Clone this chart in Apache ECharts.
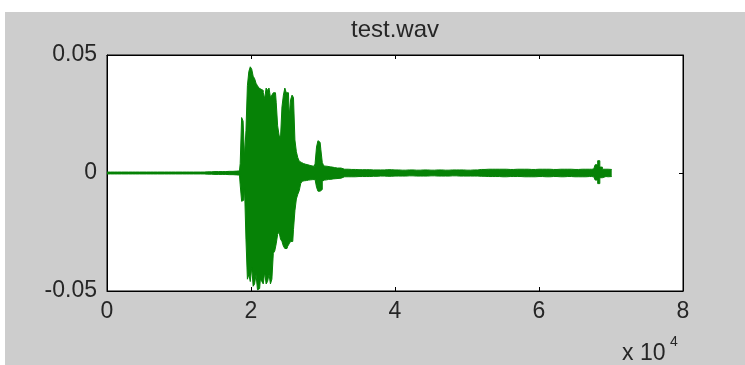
<!DOCTYPE html>
<html>
<head>
<meta charset="utf-8">
<script src="https://cdn.jsdelivr.net/npm/echarts@6/dist/echarts.min.js"></script>
<style>
  html, body { margin: 0; padding: 0; background: #ffffff; }
  #bg { position: absolute; left: 5px; top: 12px; width: 740px; height: 353px; background: #cdcdcd; }
  #chart { position: absolute; left: 0; top: 0; width: 745px; height: 365px; }
</style>
</head>
<body>
<div id="bg"></div>
<div id="chart"></div>
<script>
// Chart data (sample index, upper / lower envelope of the waveform)
const title = 'test.wav';
const xTickLabels = ['0', '2', '4', '6', '8'];
const yTickLabels = ['-0.05', '0', '0.05'];
const xExponent = '4';

const samples = [
  0, 1000, 2000, 3000, 4000, 5000, 6000, 7000, 8000, 9000, 10000, 11000, 12000, 13000, 14000,
  15000, 16000, 17000, 18000,
  18400, 18600, 18800, 19000, 19200, 19400, 19600, 19800, 20000, 20200, 20400, 20600, 20800,
  21000, 21200, 21400, 21600, 21800, 22000, 22200, 22400, 22600, 22800, 23000, 23200, 23400,
  23600, 23800, 24000, 24200, 24400, 24600, 24800, 25000, 25200, 25400, 25600, 25800, 26000,
  26200, 26400, 26600, 26800, 27000, 27200, 27400, 27600, 27800, 28000, 28200, 28400, 28600,
  28800, 29000, 29200, 29400, 29600, 29800, 30000, 30200, 30400, 30600, 30800, 31000, 31200,
  31400, 31600, 32000, 33000, 34000, 35000, 36000, 37000, 38000, 39000, 40000, 41000, 42000,
  43000, 44000, 45000, 46000, 47000, 48000, 49000, 50000, 51000, 52000, 53000, 54000, 55000,
  56000, 57000, 58000, 59000, 60000, 61000, 62000, 63000, 64000, 65000, 66000, 67000, 67600,
  68000, 68300, 68600, 69000, 69600, 70100
];
const upper = [
  0.0004, 0.0004, 0.0004, 0.0004, 0.0004, 0.0004, 0.0004, 0.0004, 0.0004, 0.0004, 0.0004, 0.0004, 0.0004, 0.0004, 0.0005,
  0.0006, 0.0006, 0.0007, 0.0008,
  0.0009, 0.004, 0.0235, 0.022, 0.007, 0.018, 0.037, 0.043, 0.045, 0.044, 0.041, 0.040, 0.038,
  0.037, 0.036, 0.0355, 0.035, 0.034, 0.0315, 0.036, 0.035, 0.036, 0.032, 0.033, 0.034, 0.034,
  0.030, 0.020, 0.016, 0.015, 0.028, 0.033, 0.036, 0.034, 0.034, 0.024, 0.031, 0.033, 0.032,
  0.014, 0.009, 0.0065, 0.005, 0.0045, 0.004, 0.0038, 0.0037, 0.0035, 0.0033, 0.0032, 0.003, 0.003,
  0.0029, 0.004, 0.011, 0.0137, 0.013, 0.010, 0.0045, 0.003, 0.0029, 0.0028, 0.0027, 0.0026, 0.0025,
  0.0024, 0.0023, 0.0021, 0.0016, 0.0015, 0.0014, 0.0014, 0.0013, 0.0013, 0.0014, 0.0013, 0.0012, 0.0013,
  0.0012, 0.0013, 0.0012, 0.0013, 0.0012, 0.0013, 0.0013, 0.0012, 0.0013, 0.0015, 0.0016, 0.0016, 0.0016,
  0.0015, 0.0016, 0.0016, 0.0015, 0.0016, 0.0016, 0.0015, 0.0016, 0.0016, 0.0015, 0.0016, 0.0016, 0.0017,
  0.0035, 0.0052, 0.0025, 0.0016, 0.0016, 0.0015
];
const lower = [
  -0.0004, -0.0004, -0.0004, -0.0004, -0.0004, -0.0004, -0.0004, -0.0004, -0.0004, -0.0004, -0.0004, -0.0004, -0.0004, -0.0004, -0.0005,
  -0.0006, -0.0006, -0.0007, -0.0008,
  -0.0009, -0.005, -0.012, -0.0115, -0.006, -0.028, -0.045, -0.043, -0.046, -0.040, -0.048, -0.047, -0.043,
  -0.0495, -0.049, -0.045, -0.046, -0.047, -0.042, -0.047, -0.046, -0.043, -0.047, -0.045, -0.034, -0.033,
  -0.030, -0.026, -0.025, -0.028, -0.029, -0.031, -0.032, -0.032, -0.031, -0.030, -0.029, -0.029, -0.024,
  -0.016, -0.011, -0.009, -0.0075, -0.0045, -0.0035, -0.0033, -0.0032, -0.0031, -0.003, -0.0029, -0.0029, -0.0028,
  -0.0028, -0.0035, -0.006, -0.0077, -0.0077, -0.007, -0.0035, -0.003, -0.0029, -0.0028, -0.0027, -0.0027, -0.0026,
  -0.0025, -0.0024, -0.0022, -0.0016, -0.0016, -0.0015, -0.0015, -0.0014, -0.0013, -0.0014, -0.0013, -0.0013, -0.0012,
  -0.0013, -0.0013, -0.0012, -0.0013, -0.0013, -0.0012, -0.0013, -0.0013, -0.0013, -0.0014, -0.0015, -0.0015, -0.0016,
  -0.0015, -0.0015, -0.0016, -0.0016, -0.0015, -0.0016, -0.0015, -0.0016, -0.0015, -0.0016, -0.0016, -0.0015, -0.0016,
  -0.003, -0.0045, -0.002, -0.0015, -0.0016, -0.0015
];

const GREEN = '#068206';
const TEXT = '#262626';
const FONT = '"Liberation Sans", Arial, sans-serif';

const chart = echarts.init(document.getElementById('chart'), null, { renderer: 'canvas' });

const xLabelMap = {};
xTickLabels.forEach((l, i) => { xLabelMap[i * 20000] = l; });
const yLabelFor = v => {
  if (Math.abs(v) < 1e-9) return yTickLabels[1];
  return v > 0 ? yTickLabels[2] : yTickLabels[0];
};

const axisCommonX = {
  type: 'value', min: 0, max: 80000, interval: 20000,
  axisLine: { show: true, onZero: false, lineStyle: { color: '#000', width: 1 } },
  axisTick: { show: true, inside: true, length: 4, lineStyle: { color: '#000' } },
  splitLine: { show: false }
};
const axisCommonY = {
  type: 'value', min: -0.05, max: 0.05, interval: 0.05,
  axisLine: { show: true, onZero: false, lineStyle: { color: '#000', width: 1 } },
  axisTick: { show: true, inside: true, length: 4, lineStyle: { color: '#000' } },
  splitLine: { show: false }
};

const envelopeSeries = (vals) => ({
  type: 'line', xAxisIndex: 0, yAxisIndex: 0,
  data: samples.map((s, i) => [s, vals[i]]),
  step: 'middle',
  showSymbol: false, symbol: 'none', sampling: null,
  lineStyle: { color: GREEN, width: 1 },
  areaStyle: { color: GREEN, opacity: 1 },
  silent: true
});

const option = {
  animation: false,
  backgroundColor: 'transparent',
  grid: {
    left: 107, right: 62, top: 55, bottom: 74,
    show: true, backgroundColor: '#ffffff', borderColor: '#000', borderWidth: 1
  },
  xAxis: [
    Object.assign({}, axisCommonX, {
      position: 'bottom',
      axisLabel: {
        show: true, margin: 9, fontSize: 23, color: TEXT, fontFamily: FONT,
        formatter: v => xLabelMap[Math.round(v)] ?? ''
      }
    }),
    Object.assign({}, axisCommonX, { position: 'top', axisLabel: { show: false } })
  ],
  yAxis: [
    Object.assign({}, axisCommonY, {
      position: 'left',
      axisLabel: {
        show: true, margin: 10, fontSize: 23, color: TEXT, fontFamily: FONT,
        formatter: yLabelFor
      }
    }),
    Object.assign({}, axisCommonY, { position: 'right', axisLabel: { show: false } })
  ],
  series: [envelopeSeries(upper), envelopeSeries(lower)],
  graphic: [
    {
      type: 'text', x: 395, y: 30,
      style: {
        text: title, fontSize: 24, fontFamily: FONT, fill: TEXT,
        textAlign: 'center', textVerticalAlign: 'middle'
      }
    },
    {
      type: 'text', x: 622, y: 354,
      style: {
        text: 'x 10', fontSize: 23, fontFamily: FONT, fill: TEXT,
        textAlign: 'left', textVerticalAlign: 'middle'
      }
    },
    {
      type: 'text', x: 670, y: 342,
      style: {
        text: xExponent, fontSize: 14, fontFamily: FONT, fill: TEXT,
        textAlign: 'left', textVerticalAlign: 'middle'
      }
    }
  ]
};
chart.setOption(option);
</script>
</body>
</html>
